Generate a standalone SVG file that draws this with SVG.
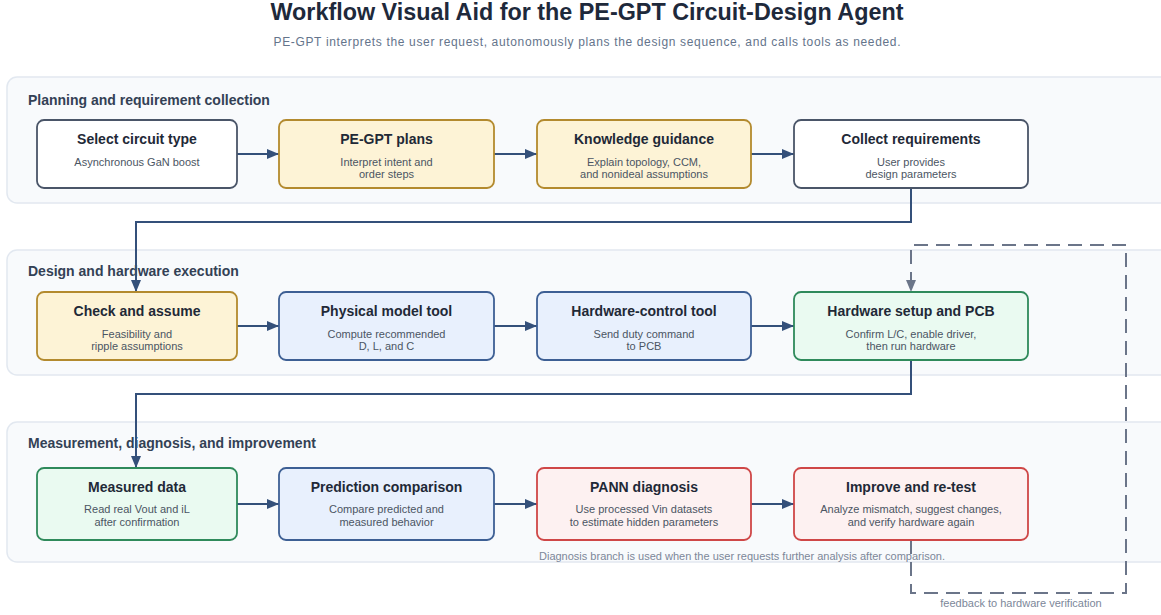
<svg xmlns="http://www.w3.org/2000/svg" width="1161" height="615" viewBox="0 0 1161 615">
  <style>
    text { font-family: "Liberation Sans", Arial, sans-serif; }
    .title { font-size: 23px; font-weight: bold; fill: #1e293b; text-anchor: middle; }
    .subtitle { font-size: 12px; fill: #64748b; text-anchor: middle; }
    .panel { fill: #f8fafc; stroke: #e2e8f0; stroke-width: 1.5; }
    .panel-label { font-size: 14px; font-weight: bold; fill: #334155; }
    .node rect { stroke-width: 1.8; }
    .node .t { font-size: 14px; font-weight: bold; fill: #1f2937; text-anchor: middle; }
    .node .s { font-size: 11px; fill: #4b5563; text-anchor: middle; }
    .plain rect { fill: #ffffff; stroke: #4a5568; }
    .amber rect { fill: #fdf3d6; stroke: #b38a2e; }
    .blue rect { fill: #e8f0fd; stroke: #3d5f94; }
    .green rect { fill: #eafaf1; stroke: #2f8a5b; }
    .red rect { fill: #fdf1f1; stroke: #cf4747; }
    .flow { fill: none; stroke: #34507a; stroke-width: 2; }
    .feedback { fill: none; stroke: #6b7589; stroke-width: 2; stroke-dasharray: 14 8; }
    .note { font-size: 11px; fill: #7c8799; }
  </style>
  <defs>
    <marker id="arrow" markerUnits="userSpaceOnUse" markerWidth="12" markerHeight="10" refX="12" refY="5" orient="auto">
      <path d="M0,0 L12,5 L0,10 z" fill="#34507a"/>
    </marker>
    <marker id="arrow-gray" markerUnits="userSpaceOnUse" markerWidth="12" markerHeight="10" refX="12" refY="5" orient="auto">
      <path d="M0,0 L12,5 L0,10 z" fill="#6b7589"/>
    </marker>
  </defs>

  <rect width="1161" height="615" fill="#ffffff"/>

  <!-- heading -->
  <text class="title" x="587" y="20" textLength="633" lengthAdjust="spacingAndGlyphs">Workflow Visual Aid for the PE-GPT Circuit-Design Agent</text>
  <text class="subtitle" x="587" y="46" textLength="627" lengthAdjust="spacing">PE-GPT interprets the user request, autonomously plans the design sequence, and calls tools as needed.</text>

  <!-- stage panels -->
  <g id="panel-planning">
    <rect class="panel" x="7" y="77" width="1170" height="126" rx="10"/>
    <text class="panel-label" x="28" y="105">Planning and requirement collection</text>
  </g>
  <g id="panel-execution">
    <rect class="panel" x="7" y="250" width="1170" height="125" rx="10"/>
    <text class="panel-label" x="28" y="276">Design and hardware execution</text>
  </g>
  <g id="panel-measurement">
    <rect class="panel" x="7" y="422" width="1170" height="140" rx="10"/>
    <text class="panel-label" x="28" y="448">Measurement, diagnosis, and improvement</text>
  </g>

  <!-- connectors -->
  <g id="connectors">
    <path class="flow" d="M237,154 H279" marker-end="url(#arrow)"/>
    <path class="flow" d="M494,154 H537" marker-end="url(#arrow)"/>
    <path class="flow" d="M751,154 H794" marker-end="url(#arrow)"/>
    <path class="flow" d="M911,188 V222 H136 V292" marker-end="url(#arrow)"/>
    <path class="flow" d="M237,326 H279" marker-end="url(#arrow)"/>
    <path class="flow" d="M494,326 H537" marker-end="url(#arrow)"/>
    <path class="flow" d="M751,326 H794" marker-end="url(#arrow)"/>
    <path class="flow" d="M911,360 V394 H136 V468" marker-end="url(#arrow)"/>
    <path class="flow" d="M237,504 H279" marker-end="url(#arrow)"/>
    <path class="flow" d="M494,504 H537" marker-end="url(#arrow)"/>
    <path class="flow" d="M751,504 H794" marker-end="url(#arrow)"/>
    <path class="feedback" d="M911,540 V593 H1126 V245 H911 V292" marker-end="url(#arrow-gray)"/>
    <text class="note" x="1021" y="607" text-anchor="middle">feedback to hardware verification</text>
  </g>

  <!-- row 1 -->
  <g id="select-circuit" class="node plain">
    <rect x="37" y="120" width="200" height="68" rx="7"/>
    <text class="t" x="137" y="144">Select circuit type</text>
    <text class="s" x="137" y="166">Asynchronous GaN boost</text>
  </g>
  <g id="pegpt-plans" class="node amber">
    <rect x="279" y="120" width="215" height="68" rx="7"/>
    <text class="t" x="386.5" y="144">PE-GPT plans</text>
    <text class="s" x="386.5" y="166">Interpret intent and</text>
    <text class="s" x="386.5" y="178">order steps</text>
  </g>
  <g id="knowledge-guidance" class="node amber">
    <rect x="537" y="120" width="214" height="68" rx="7"/>
    <text class="t" x="644" y="144">Knowledge guidance</text>
    <text class="s" x="644" y="166">Explain topology, CCM,</text>
    <text class="s" x="644" y="178">and nonideal assumptions</text>
  </g>
  <g id="collect-requirements" class="node plain">
    <rect x="794" y="120" width="234" height="68" rx="7"/>
    <text class="t" x="911" y="144">Collect requirements</text>
    <text class="s" x="911" y="166">User provides</text>
    <text class="s" x="911" y="178">design parameters</text>
  </g>

  <!-- row 2 -->
  <g id="check-assume" class="node amber">
    <rect x="37" y="292" width="200" height="68" rx="7"/>
    <text class="t" x="137" y="316">Check and assume</text>
    <text class="s" x="137" y="338">Feasibility and</text>
    <text class="s" x="137" y="350">ripple assumptions</text>
  </g>
  <g id="physical-model" class="node blue">
    <rect x="279" y="292" width="215" height="68" rx="7"/>
    <text class="t" x="386.5" y="316">Physical model tool</text>
    <text class="s" x="386.5" y="338">Compute recommended</text>
    <text class="s" x="386.5" y="350">D, L, and C</text>
  </g>
  <g id="hardware-control" class="node blue">
    <rect x="537" y="292" width="214" height="68" rx="7"/>
    <text class="t" x="644" y="316">Hardware-control tool</text>
    <text class="s" x="644" y="338">Send duty command</text>
    <text class="s" x="644" y="350">to PCB</text>
  </g>
  <g id="hardware-setup" class="node green">
    <rect x="794" y="292" width="234" height="68" rx="7"/>
    <text class="t" x="911" y="316">Hardware setup and PCB</text>
    <text class="s" x="911" y="338">Confirm L/C, enable driver,</text>
    <text class="s" x="911" y="350">then run hardware</text>
  </g>

  <!-- row 3 -->
  <g id="measured-data" class="node green">
    <rect x="37" y="468" width="200" height="72" rx="7"/>
    <text class="t" x="137" y="492">Measured data</text>
    <text class="s" x="137" y="513">Read real Vout and iL</text>
    <text class="s" x="137" y="526">after confirmation</text>
  </g>
  <g id="prediction-comparison" class="node blue">
    <rect x="279" y="468" width="215" height="72" rx="7"/>
    <text class="t" x="386.5" y="492">Prediction comparison</text>
    <text class="s" x="386.5" y="513">Compare predicted and</text>
    <text class="s" x="386.5" y="526">measured behavior</text>
  </g>
  <g id="pann-diagnosis" class="node red">
    <rect x="537" y="468" width="214" height="72" rx="7"/>
    <text class="t" x="644" y="492">PANN diagnosis</text>
    <text class="s" x="644" y="513">Use processed Vin datasets</text>
    <text class="s" x="644" y="526">to estimate hidden parameters</text>
  </g>
  <g id="improve-retest" class="node red">
    <rect x="794" y="468" width="234" height="72" rx="7"/>
    <text class="t" x="911" y="492">Improve and re-test</text>
    <text class="s" x="911" y="513">Analyze mismatch, suggest changes,</text>
    <text class="s" x="911" y="526">and verify hardware again</text>
  </g>

  <text class="note" x="742" y="560" text-anchor="middle">Diagnosis branch is used when the user requests further analysis after comparison.</text>
</svg>
